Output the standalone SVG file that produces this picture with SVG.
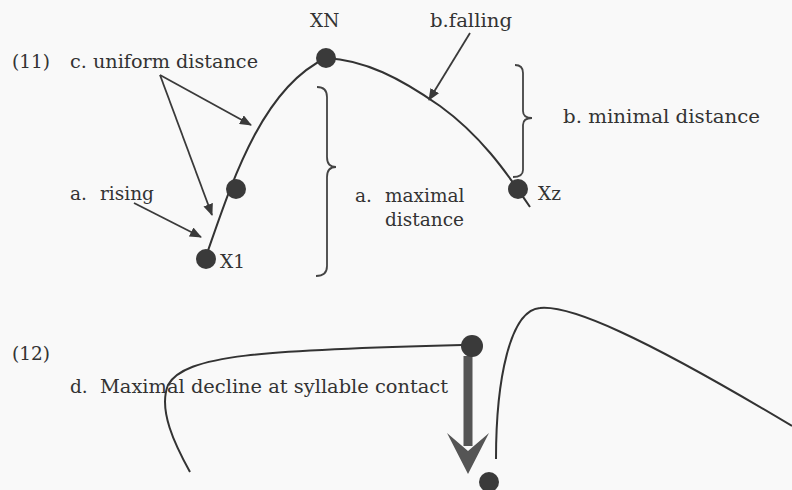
<svg xmlns="http://www.w3.org/2000/svg" width="792" height="490" viewBox="0 0 792 490">
<defs>
<style>
text{font-family:"DejaVu Serif","Liberation Serif",serif;font-size:18.5px;fill:#333}
.curve{fill:none;stroke:#333;stroke-width:2}
.ptr{fill:none;stroke:#3a3a3a;stroke-width:1.8;marker-end:url(#ah)}
.brace{fill:none;stroke:#444;stroke-width:1.8}
.dot{fill:#3a3a3a}
</style>
<marker id="ah" viewBox="0 0 12 10" refX="11" refY="5" markerWidth="12" markerHeight="10" markerUnits="userSpaceOnUse" orient="auto">
<path d="M0,0 L12,5 L0,10 Z" fill="#3a3a3a"/>
</marker>
</defs>
<rect width="792" height="490" fill="#f9f9f9"/>

<g id="connectors">
<path class="curve" d="M204,262 C228,195 258,90 326,58"/>
<path class="curve" d="M326,58 C365,60 400,78 440,106 C480,135 505,170 530,207"/>
<line class="ptr" x1="160" y1="75" x2="251" y2="125"/>
<line class="ptr" x1="160" y1="75" x2="212" y2="215"/>
<line class="ptr" x1="134" y1="203" x2="201" y2="237"/>
<line class="ptr" x1="470" y1="33" x2="429" y2="100"/>
<path class="brace" d="M317,87 Q327,87 327,97 L327,157 Q327,167 336,167 Q327,167 327,177 L327,266 Q327,276 316,276"/>
<path class="brace" d="M515,65 Q523,65 523,73 L523,111 Q523,118 532,118 Q523,118 523,125 L523,170 Q523,177 513,177"/>
<path class="curve" d="M190,472 C175,445 158,410 168,385 C185,355 260,350 462,345"/>
<path class="curve" d="M496,459 C496,380 510,310 540,308 C570,305 640,335 792,426"/>
<line x1="468" y1="356" x2="468" y2="446" stroke="#555" stroke-width="9"/>
<polygon points="447,433 468,451 489,433 468,474" fill="#555"/>
</g>

<g id="node-XN"><circle class="dot" cx="326" cy="58" r="10"/><text x="310" y="27">XN</text></g>
<g id="node-mid"><circle class="dot" cx="236" cy="189" r="10"/></g>
<g id="node-X1"><circle class="dot" cx="206" cy="259" r="10"/><text x="220" y="268">X1</text></g>
<g id="node-Xz"><circle class="dot" cx="518" cy="189" r="10"/><text x="538" y="200">Xz</text></g>
<g id="node-top12"><circle class="dot" cx="472" cy="346" r="11"/></g>
<g id="node-bottom12"><circle class="dot" cx="489" cy="482" r="10"/></g>

<g id="labels">
<text x="12" y="68">(11)</text>
<text x="70" y="68" textLength="188" lengthAdjust="spacingAndGlyphs">c. uniform distance</text>
<text x="430" y="27" textLength="82" lengthAdjust="spacingAndGlyphs">b.falling</text>
<text x="563" y="123" textLength="197" lengthAdjust="spacingAndGlyphs">b. minimal distance</text>
<text x="70" y="200">a.<tspan x="100">rising</tspan></text>
<text x="355" y="202">a.<tspan x="385">maximal</tspan></text>
<text x="385" y="226">distance</text>
<text x="12" y="360">(12)</text>
<text x="70" y="393">d.<tspan x="100" textLength="348" lengthAdjust="spacingAndGlyphs">Maximal decline at syllable contact</tspan></text>
</g>
</svg>
